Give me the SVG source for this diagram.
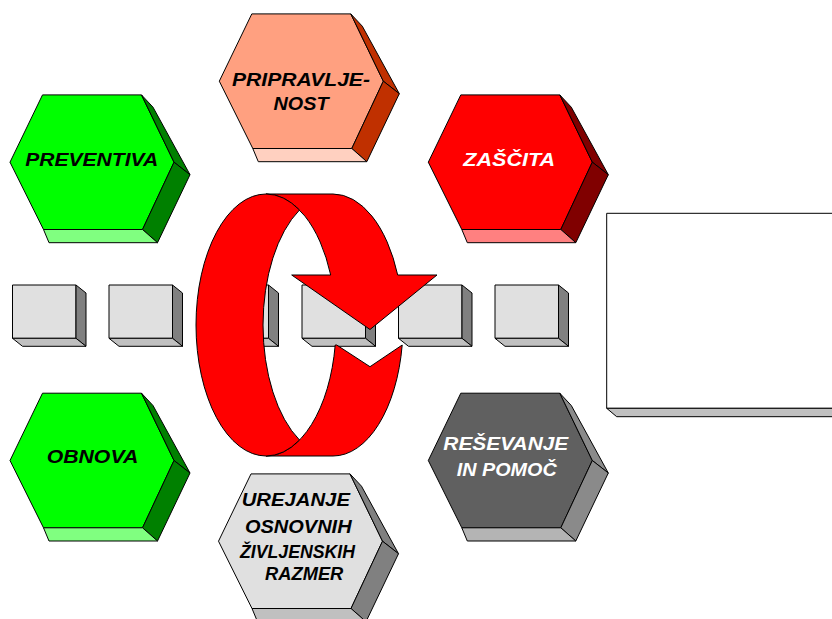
<svg xmlns="http://www.w3.org/2000/svg" width="832" height="619" viewBox="0 0 832 619">
<style>
  .e { stroke: #000; stroke-width: 1; stroke-linejoin: round; }
  .t { font-family: "Liberation Sans", Arial, sans-serif; font-weight: bold; font-style: italic; font-size: 18.5px; text-anchor: middle; }
  .dk { fill: #000; }
  .wh { fill: #fff; }
  .bf { fill: #E0E0E0; }
  .bs { fill: #808080; }
  .bb { fill: #C0C0C0; }
  .ring { fill: #FF0000; stroke: #000; stroke-width: 1; stroke-linejoin: round; }
</style>
<rect width="832" height="619" fill="#fff"/>

<!-- hexagons -->
<g id="pripravljenost" transform="translate(219.3,81.2)">
  <polygon class="e" fill="#FFA080" points="0,0 32.5,-67.3 131.5,-67.3 164,0 132.5,67.3 33.5,67.3"/>
  <polygon class="e" fill="#C03000" points="131.5,-67.3 143,-55 180,12.5 164,0"/>
  <polygon class="e" fill="#C03000" points="164,0 180,12.5 147.5,80.5 132.5,67.3"/>
  <polygon class="e" fill="#FFD0C0" points="33.5,67.3 132.5,67.3 147.5,80.5 39,80.5"/>
  <text class="t dk" x="81.7" y="4.8" textLength="138" lengthAdjust="spacingAndGlyphs">PRIPRAVLJE-</text>
  <text class="t dk" x="81.7" y="28.8" textLength="55" lengthAdjust="spacingAndGlyphs">NOST</text>
</g>
<g id="preventiva" transform="translate(10,162.2)">
  <polygon class="e" fill="#00FF00" points="0,0 32.5,-67.3 131.5,-67.3 164,0 132.5,67.3 33.5,67.3"/>
  <polygon class="e" fill="#008000" points="131.5,-67.3 143,-55 180,12.5 164,0"/>
  <polygon class="e" fill="#008000" points="164,0 180,12.5 147.5,80.5 132.5,67.3"/>
  <polygon class="e" fill="#80FF80" points="33.5,67.3 132.5,67.3 147.5,80.5 39,80.5"/>
  <text class="t dk" x="81.7" y="3.8" textLength="133" lengthAdjust="spacingAndGlyphs">PREVENTIVA</text>
</g>
<g id="zascita" transform="translate(428.3,162.2)">
  <polygon class="e" fill="#FF0000" points="0,0 32.5,-67.3 131.5,-67.3 164,0 132.5,67.3 33.5,67.3"/>
  <polygon class="e" fill="#800000" points="131.5,-67.3 143,-55 180,12.5 164,0"/>
  <polygon class="e" fill="#800000" points="164,0 180,12.5 147.5,80.5 132.5,67.3"/>
  <polygon class="e" fill="#FF8080" points="33.5,67.3 132.5,67.3 147.5,80.5 39,80.5"/>
  <text class="t wh" x="80.9" y="3.8" textLength="91.7" lengthAdjust="spacingAndGlyphs">ZAŠČITA</text>
</g>
<g id="obnova" transform="translate(10,460.5)">
  <polygon class="e" fill="#00FF00" points="0,0 32.5,-67.3 131.5,-67.3 164,0 132.5,67.3 33.5,67.3"/>
  <polygon class="e" fill="#008000" points="131.5,-67.3 143,-55 180,12.5 164,0"/>
  <polygon class="e" fill="#008000" points="164,0 180,12.5 147.5,80.5 132.5,67.3"/>
  <polygon class="e" fill="#80FF80" points="33.5,67.3 132.5,67.3 147.5,80.5 39,80.5"/>
  <text class="t dk" x="82.5" y="2.8" textLength="91.7" lengthAdjust="spacingAndGlyphs">OBNOVA</text>
</g>
<g id="resevanje" transform="translate(428.3,460.5)">
  <polygon class="e" fill="#606060" points="0,0 32.5,-67.3 131.5,-67.3 164,0 132.5,67.3 33.5,67.3"/>
  <polygon class="e" fill="#8A8A8A" points="131.5,-67.3 143,-55 180,12.5 164,0"/>
  <polygon class="e" fill="#8A8A8A" points="164,0 180,12.5 147.5,80.5 132.5,67.3"/>
  <polygon class="e" fill="#B4B4B4" points="33.5,67.3 132.5,67.3 147.5,80.5 39,80.5"/>
  <text class="t wh" x="77.5" y="-10.5" textLength="125" lengthAdjust="spacingAndGlyphs">REŠEVANJE</text>
  <text class="t wh" x="78.4" y="15.2" textLength="100" lengthAdjust="spacingAndGlyphs">IN POMOČ</text>
</g>
<g id="urejanje" transform="translate(218.5,541.2)">
  <polygon class="e" fill="#E0E0E0" points="0,0 32.5,-67.3 131.5,-67.3 164,0 132.5,67.3 33.5,67.3"/>
  <polygon class="e" fill="#808080" points="131.5,-67.3 143,-55 180,12.5 164,0"/>
  <polygon class="e" fill="#808080" points="164,0 180,12.5 147.5,80.5 132.5,67.3"/>
  <polygon class="e" fill="#C0C0C0" points="33.5,67.3 132.5,67.3 147.5,80.5 39,80.5"/>
  <text class="t dk" x="77.3" y="-35.2" textLength="108.3" lengthAdjust="spacingAndGlyphs">UREJANJE</text>
  <text class="t dk" x="79.8" y="-7.9" textLength="106.7" lengthAdjust="spacingAndGlyphs">OSNOVNIH</text>
  <text class="t dk" x="79" y="17.1" textLength="115" lengthAdjust="spacingAndGlyphs">ŽIVLJENSKIH</text>
  <text class="t dk" x="85.7" y="38.8" textLength="78.3" lengthAdjust="spacingAndGlyphs">RAZMER</text>
</g>

<!-- gray boxes -->
<g id="box1" transform="translate(12.5,0)">
  <rect class="e bf" x="0" y="285" width="63.5" height="53.3"/>
  <polygon class="e bs" points="63.5,285 73.5,293 73.5,346.3 63.5,338.3"/>
  <polygon class="e bb" points="0,338.3 63.5,338.3 73.5,346.3 10,346.3"/>
</g>
<g id="box2" transform="translate(109,0)">
  <rect class="e bf" x="0" y="285" width="63.5" height="53.3"/>
  <polygon class="e bs" points="63.5,285 73.5,293 73.5,346.3 63.5,338.3"/>
  <polygon class="e bb" points="0,338.3 63.5,338.3 73.5,346.3 10,346.3"/>
</g>
<g id="box3" transform="translate(205,0)">
  <rect class="e bf" x="0" y="285" width="63.5" height="53.3"/>
  <polygon class="e bs" points="63.5,285 73.5,293 73.5,346.3 63.5,338.3"/>
  <polygon class="e bb" points="0,338.3 63.5,338.3 73.5,346.3 10,346.3"/>
</g>
<g id="box4" transform="translate(302,0)">
  <rect class="e bf" x="0" y="285" width="63.5" height="53.3"/>
  <polygon class="e bs" points="63.5,285 73.5,293 73.5,346.3 63.5,338.3"/>
  <polygon class="e bb" points="0,338.3 63.5,338.3 73.5,346.3 10,346.3"/>
</g>
<g id="box5" transform="translate(398.5,0)">
  <rect class="e bf" x="0" y="285" width="63.5" height="53.3"/>
  <polygon class="e bs" points="63.5,285 73.5,293 73.5,346.3 63.5,338.3"/>
  <polygon class="e bb" points="0,338.3 63.5,338.3 73.5,346.3 10,346.3"/>
</g>
<g id="box6" transform="translate(495,0)">
  <rect class="e bf" x="0" y="285" width="63.5" height="53.3"/>
  <polygon class="e bs" points="63.5,285 73.5,293 73.5,346.3 63.5,338.3"/>
  <polygon class="e bb" points="0,338.3 63.5,338.3 73.5,346.3 10,346.3"/>
</g>

<!-- white panel -->
<g id="panel">
  <rect class="e" fill="#fff" x="606.7" y="213.3" width="240" height="195"/>
  <polygon class="e bb" points="606.7,408.3 616.7,416.7 846,416.7 846,408.3"/>
</g>

<!-- cycle arrow -->
<g id="cycle">
  <path class="ring" d="M 266,194 L 333,194 A 70 131 0 0 1 397.7,275 L 437,275 L 370,329.5 L 291.7,275 L 330.7,275 A 70 131 0 0 0 266,194 Z"/>
  <path class="ring" d="M 336.7,345 L 370,366.7 L 402.2,345 A 70 131 0 0 1 333,456 L 266,456 A 70 131 0 0 0 335.2,345 Z"/>
  <path class="ring" d="M 266,194 A 70 131 0 0 0 266,456 A 70 131 0 0 0 299.5,440 A 70 131 0 0 1 299.5,210 A 70 131 0 0 0 266,194 Z"/>
</g>
</svg>
